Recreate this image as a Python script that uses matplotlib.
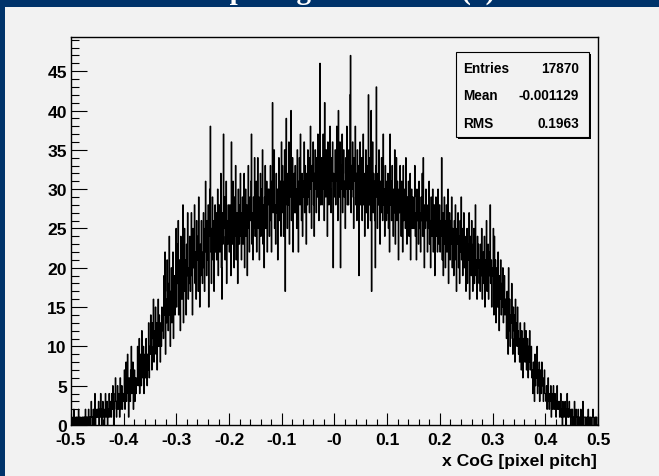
import numpy as np
import matplotlib
matplotlib.use('Agg')
import matplotlib.pyplot as plt
from matplotlib.patches import Rectangle

# histogram: 1000 bins over [-0.5, 0.5], counts (25 bins per row)
x_lo, x_hi, n_bins = -0.5, 0.5, 1000
counts = [
    0, 1, 0, 0, 1, 2, 0, 1, 0, 0, 1, 1, 0, 0, 2, 1, 0, 0, 1, 0, 0, 1, 0, 1, 0,
    1, 0, 2, 1, 0, 1, 1, 0, 2, 0, 1, 0, 1, 3, 1, 0, 1, 2, 0, 1, 4, 0, 2, 1, 1,
    2, 1, 3, 0, 2, 1, 4, 2, 0, 1, 3, 2, 1, 0, 2, 4, 1, 2, 3, 0, 1, 2, 4, 1, 2,
    3, 1, 4, 2, 5, 3, 0, 2, 4, 6, 3, 1, 3, 5, 2, 4, 3, 1, 6, 2, 3, 5, 2, 4, 3,
    4, 7, 2, 5, 8, 3, 6, 9, 4, 1, 6, 5, 3, 7, 10, 4, 6, 8, 2, 5, 7, 3, 6, 4, 5,
    6, 10, 5, 8, 11, 4, 9, 7, 5, 12, 8, 6, 10, 4, 7, 9, 6, 11, 8, 5, 9, 7, 13, 6, 10,
    9, 14, 10, 7, 13, 11, 16, 8, 12, 10, 15, 9, 13, 7, 12, 16, 10, 14, 11, 8, 13, 10, 15, 12, 14,
    11, 19, 14, 22, 9, 16, 13, 21, 17, 12, 18, 24, 14, 10, 17, 20, 13, 16, 22, 11, 15, 19, 14, 18, 25,
    15, 23, 18, 26, 14, 21, 17, 12, 24, 19, 16, 22, 28, 13, 20, 25, 17, 21, 14, 23, 19, 27, 16, 20, 18,
    24, 17, 22, 27, 19, 14, 25, 20, 23, 28, 18, 22, 16, 26, 21, 24, 17, 29, 20, 15, 23, 19, 26, 22, 18,
    20, 27, 23, 17, 25, 31, 22, 19, 26, 21, 28, 15, 24, 30, 38, 22, 18, 25, 29, 21, 26, 17, 24, 28, 22,
    27, 21, 25, 30, 19, 24, 28, 22, 26, 32, 20, 16, 27, 23, 37, 25, 29, 21, 24, 31, 18, 26, 23, 28, 25,
    22, 28, 25, 19, 36, 27, 23, 31, 26, 20, 29, 24, 33, 21, 27, 25, 18, 30, 26, 23, 28, 32, 24, 21, 27,
    29, 23, 27, 32, 20, 26, 30, 24, 28, 19, 27, 33, 25, 22, 29, 26, 31, 37, 23, 27, 21, 29, 25, 34, 24,
    26, 31, 22, 28, 34, 25, 29, 21, 27, 32, 24, 30, 26, 35, 23, 28, 20, 29, 33, 25, 27, 31, 22, 28, 30,
    30, 24, 28, 33, 26, 22, 31, 41, 27, 29, 35, 25, 28, 23, 32, 27, 30, 21, 29, 34, 26, 28, 31, 24, 36,
    27, 33, 29, 24, 31, 35, 17, 28, 39, 30, 25, 32, 28, 36, 23, 29, 31, 40, 26, 30, 34, 22, 29, 32, 27,
    33, 27, 30, 25, 35, 29, 22, 31, 34, 28, 37, 30, 26, 32, 24, 31, 29, 36, 27, 33, 30, 23, 32, 28, 35,
    29, 34, 27, 32, 38, 30, 25, 33, 31, 36, 28, 24, 32, 35, 30, 27, 34, 29, 37, 31, 26, 33, 46, 28, 32,
    34, 28, 31, 37, 30, 26, 41, 33, 29, 35, 31, 24, 36, 32, 28, 33, 38, 30, 27, 34, 31, 36, 20, 32, 29,
    30, 35, 28, 33, 38, 31, 26, 40, 32, 29, 36, 20, 33, 30, 37, 27, 32, 35, 29, 31, 25, 34, 30, 38, 28,
    32, 28, 35, 30, 42, 47, 27, 33, 30, 36, 29, 25, 34, 31, 38, 28, 32, 26, 35, 30, 33, 19, 31, 36, 28,
    29, 34, 26, 31, 37, 28, 32, 24, 30, 35, 27, 33, 29, 25, 42, 31, 28, 34, 26, 40, 17, 30, 36, 27, 32,
    31, 26, 20, 33, 43, 29, 25, 32, 28, 35, 30, 23, 31, 27, 34, 29, 26, 37, 28, 30, 24, 33, 29, 26, 31,
    27, 32, 25, 30, 22, 37, 28, 31, 26, 33, 29, 24, 30, 27, 35, 23, 29, 34, 26, 31, 28, 21, 30, 27, 33,
    29, 24, 31, 27, 22, 33, 26, 28, 30, 25, 34, 27, 23, 29, 26, 31, 24, 28, 32, 21, 27, 30, 25, 29, 26,
    25, 29, 33, 24, 27, 21, 30, 26, 28, 23, 31, 25, 27, 22, 29, 26, 32, 24, 34, 27, 20, 28, 25, 30, 26,
    27, 22, 28, 25, 31, 23, 26, 20, 29, 24, 27, 30, 22, 25, 28, 19, 26, 29, 24, 27, 22, 30, 25, 23, 28,
    22, 26, 24, 34, 21, 27, 19, 25, 29, 23, 20, 26, 28, 22, 25, 30, 18, 24, 27, 21, 26, 23, 29, 20, 25,
    24, 19, 26, 21, 28, 22, 17, 25, 23, 27, 20, 24, 18, 26, 22, 29, 21, 25, 19, 23, 27, 20, 24, 22, 17,
    20, 25, 18, 23, 21, 27, 16, 22, 24, 19, 26, 20, 17, 23, 25, 18, 22, 28, 19, 21, 16, 24, 20, 23, 18,
    21, 17, 23, 19, 25, 16, 20, 22, 18, 24, 15, 21, 19, 26, 17, 20, 23, 16, 22, 19, 28, 18, 21, 15, 20,
    19, 25, 14, 24, 16, 21, 13, 18, 20, 15, 22, 17, 12, 19, 16, 21, 14, 18, 15, 20, 13, 17, 19, 14, 16,
    15, 11, 17, 13, 9, 20, 12, 16, 10, 14, 13, 18, 11, 9, 15, 12, 14, 8, 16, 11, 13, 10, 15, 12, 9,
    11, 8, 13, 9, 7, 12, 10, 6, 11, 9, 13, 8, 10, 12, 7, 9, 11, 6, 10, 8, 12, 7, 9, 10, 6,
    7, 4, 8, 6, 3, 9, 5, 7, 6, 10, 4, 7, 5, 8, 3, 6, 7, 4, 8, 5, 6, 3, 5, 7, 4,
    4, 3, 5, 2, 4, 6, 3, 2, 4, 3, 5, 1, 3, 4, 2, 5, 3, 2, 4, 3, 1, 3, 5, 2, 3,
    2, 3, 1, 2, 4, 1, 2, 0, 3, 2, 1, 2, 3, 1, 0, 2, 4, 1, 2, 1, 3, 2, 1, 0, 2,
    1, 2, 0, 1, 1, 3, 0, 1, 2, 1, 0, 1, 2, 0, 1, 1, 0, 2, 1, 0, 1, 3, 0, 1, 1,
    1, 0, 1, 0, 0, 1, 2, 0, 0, 1, 0, 1, 0, 0, 1, 2, 1, 0, 0, 1, 0, 1, 1, 0, 0,
]
xticks = [-0.5, -0.4, -0.3, -0.2, -0.1, 0.0, 0.1, 0.2, 0.3, 0.4, 0.5]
xtick_labels = ['-0.5', '-0.4', '-0.3', '-0.2', '-0.1', '-0', '0.1', '0.2', '0.3', '0.4', '0.5']
yticks = [0, 5, 10, 15, 20, 25, 30, 35, 40, 45]
y_max = 49.35
stat_names = ['Entries', 'Mean', 'RMS']
stat_values = ['17870', '-0.001129', '0.1963']
title = 'x CoG vs. pixel grid location (x)'
xlabel = 'x CoG [pixel pitch]'

W, H = 659, 477
BG = '#00336a'
PANEL = '#f2f2f2'
FONT = ['Liberation Sans', 'DejaVu Sans']


def fx(px):
    return px / W


def fy(py):
    return (H - py) / H


fig = plt.figure(figsize=(W / 100, H / 100), dpi=100, facecolor=BG)
# light slide panel behind the plot (title sits mostly above the top edge)
fig.patches.append(Rectangle((fx(5), 0), 1 - fx(5), fy(8), transform=fig.transFigure,
                             facecolor=PANEL, edgecolor='none', zorder=0))
fig.text(fx(102), fy(-1), title, color='white', fontsize=21, fontweight='bold',
         family=['Liberation Serif', 'DejaVu Serif'], ha='left', va='baseline')

ax = fig.add_axes([fx(71), fy(426), fx(598) - fx(71), fy(38) - fy(426)])
ax.set_zorder(2)
ax.set_facecolor(PANEL)
edges = np.linspace(x_lo, x_hi, n_bins + 1)
ax.stairs(counts, edges, baseline=None, color='black', lw=0.9)
ax.set_xlim(x_lo, x_hi)
ax.set_ylim(0, y_max)

for s in ax.spines.values():
    s.set_linewidth(1.0)
ax.set_xticks(xticks)
ax.set_xticklabels(xtick_labels)
ax.set_xticks(np.arange(-0.5, 0.501, 0.02), minor=True)
ax.set_yticks(yticks)
ax.set_yticks(np.arange(0, 49.5, 1), minor=True)
ax.tick_params(axis='x', which='major', direction='in', length=8.6, width=0.8, pad=5)
ax.tick_params(axis='x', which='minor', direction='in', length=4.3, width=0.8)
ax.tick_params(axis='y', which='major', direction='in', length=11.5, width=0.8, pad=3)
ax.tick_params(axis='y', which='minor', direction='in', length=5.8, width=0.8)
for lab in ax.get_xticklabels() + ax.get_yticklabels():
    lab.set_family(FONT)
    lab.set_fontweight('bold')
    lab.set_fontsize(12.6)

fig.text(fx(597), fy(462), xlabel, ha='right', va='center', family=FONT,
         fontweight='bold', fontsize=12.6)

# stats box with ROOT-like shadow
bx0, by0, bx1, by1 = 456, 53, 589, 138
fig.patches.append(Rectangle((fx(bx0 + 2), fy(by1 + 2)), fx(bx1 - bx0), fy(by0) - fy(by1),
                             transform=fig.transFigure, facecolor='black', edgecolor='none', zorder=5))
fig.patches.append(Rectangle((fx(bx0), fy(by1)), fx(bx1 - bx0), fy(by0) - fy(by1),
                             transform=fig.transFigure, facecolor=PANEL, edgecolor='black',
                             lw=0.8, zorder=6))
for i, (name, val) in enumerate(zip(stat_names, stat_values)):
    yy = fy(69 + i * 27.5)
    fig.text(fx(463), yy, name, ha='left', va='center', family=FONT,
             fontweight='bold', fontsize=9.8, zorder=7)
    fig.text(fx(579), yy, val, ha='right', va='center', family=FONT,
             fontweight='bold', fontsize=9.8, zorder=7)

fig.savefig('out.png', dpi=100, facecolor=BG)
